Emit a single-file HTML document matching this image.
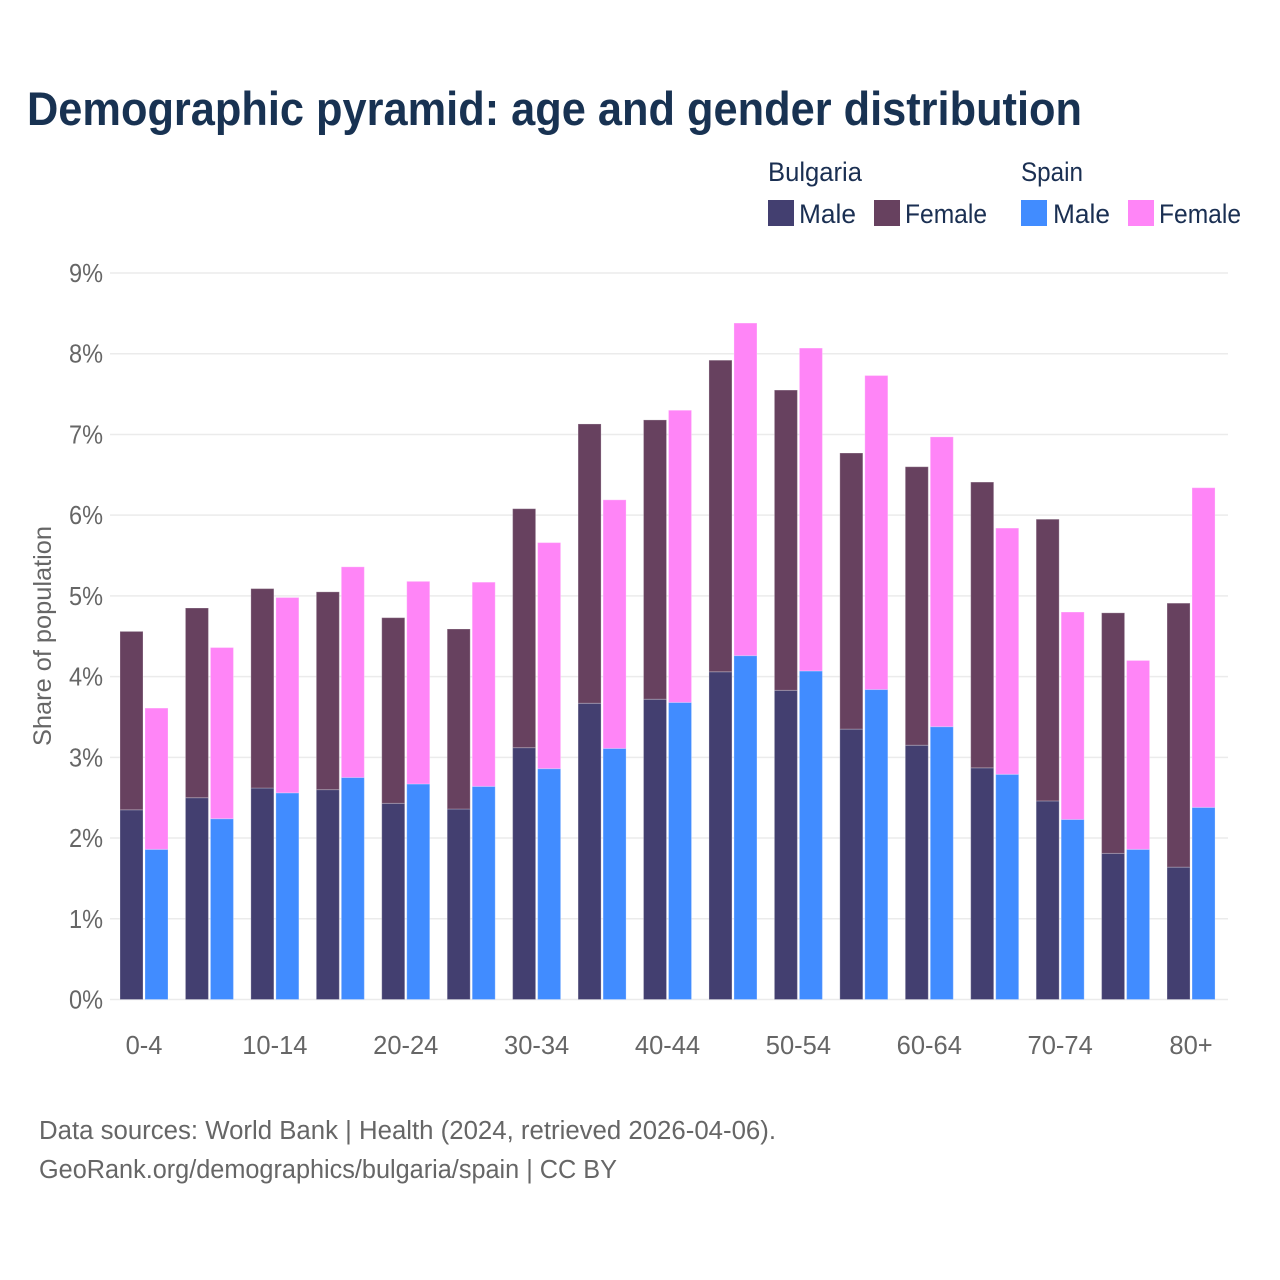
<!DOCTYPE html>
<html lang="en">
<head>
<meta charset="utf-8">
<title>Demographic pyramid: age and gender distribution</title>
<style>
html,body{margin:0;padding:0;background:#fff;width:1280px;height:1280px;overflow:hidden}
svg{display:block}
text{font-family:"Liberation Sans",sans-serif}
.legend{font-size:27px;fill:#1a2f52}
.tick{font-size:25.5px;fill:#666}
.foot{font-size:25.5px;fill:#666}
</style>
</head>
<body>
<svg id="chart" xmlns="http://www.w3.org/2000/svg" width="1280" height="1280" viewBox="0 0 1280 1280">
  <rect x="0" y="0" width="1280" height="1280" fill="#fff"/>
  <text x="27" y="125" font-size="47" font-weight="700" fill="#183252" textLength="1055" lengthAdjust="spacingAndGlyphs">Demographic pyramid: age and gender distribution</text>

  <g>
    <text class="legend" x="768" y="181" textLength="94" lengthAdjust="spacingAndGlyphs">Bulgaria</text>
    <text class="legend" x="1021" y="181" textLength="62" lengthAdjust="spacingAndGlyphs">Spain</text>
    <rect x="768" y="200" width="26" height="26" fill="#433f70"/>
    <text class="legend" x="799" y="223" textLength="57" lengthAdjust="spacingAndGlyphs">Male</text>
    <rect x="874" y="200" width="26" height="26" fill="#67415f"/>
    <text class="legend" x="905" y="223" textLength="82" lengthAdjust="spacingAndGlyphs">Female</text>
    <rect x="1021" y="200" width="26" height="26" fill="#418cff"/>
    <text class="legend" x="1053" y="223" textLength="57" lengthAdjust="spacingAndGlyphs">Male</text>
    <rect x="1128" y="200" width="26" height="26" fill="#ff85f7"/>
    <text class="legend" x="1159" y="223" textLength="82" lengthAdjust="spacingAndGlyphs">Female</text>
  </g>

  <text transform="translate(51,746) rotate(-90)" x="0" y="0" font-size="25" fill="#666" textLength="220" lengthAdjust="spacingAndGlyphs">Share of population</text>

  <g id="grid"></g>
  <g id="ylabels"></g>
  <g id="bars"></g>
  <g id="xlabels"></g>

  <g>
    <text class="foot" x="39" y="1139" textLength="737" lengthAdjust="spacingAndGlyphs">Data sources: World Bank | Health (2024, retrieved 2026-04-06).</text>
    <text class="foot" x="39" y="1178" textLength="578" lengthAdjust="spacingAndGlyphs">GeoRank.org/demographics/bulgaria/spain | CC BY</text>
  </g>
</svg>
<script>
const ageGroups = ["0-4","5-9","10-14","15-19","20-24","25-29","30-34","35-39","40-44","45-49","50-54","55-59","60-64","65-69","70-74","75-79","80+"];
const xTickLabels = ["0-4","","10-14","","20-24","","30-34","","40-44","","50-54","","60-64","","70-74","","80+"];
const yTicks = [0,1,2,3,4,5,6,7,8,9];
const bulgariaMale = [2.35,2.50,2.62,2.60,2.43,2.36,3.12,3.67,3.72,4.06,3.83,3.35,3.15,2.87,2.46,1.81,1.64];
const bulgariaFemale = [2.21,2.35,2.47,2.45,2.30,2.23,2.96,3.46,3.46,3.86,3.72,3.42,3.45,3.54,3.49,2.98,3.27];
const spainMale = [1.86,2.24,2.56,2.75,2.67,2.64,2.86,3.11,3.68,4.26,4.07,3.84,3.38,2.79,2.23,1.86,2.38];
const spainFemale = [1.75,2.12,2.42,2.61,2.51,2.53,2.80,3.08,3.62,4.12,4.00,3.89,3.59,3.05,2.57,2.34,3.96];

const NS = "http://www.w3.org/2000/svg";
const yScale = function (v) { return 999.5 - v * 80.72; };
const xScale = function (i) { return 120 + i * 65.44; };
const BAR_W = 23;
const BAR_GAP = 25;

function addSegment(parent, x, base, value, fill) {
  const r = document.createElementNS(NS, "rect");
  r.setAttribute("x", x);
  r.setAttribute("y", yScale(base + value));
  r.setAttribute("width", BAR_W);
  r.setAttribute("height", yScale(base) - yScale(base + value));
  r.setAttribute("fill", fill);
  r.setAttribute("stroke", "#fff");
  r.setAttribute("stroke-opacity", "0.25");
  r.setAttribute("stroke-width", "1");
  parent.appendChild(r);
  return r;
}

const grid = document.getElementById("grid");
const ylabels = document.getElementById("ylabels");
yTicks.forEach(function (t) {
  const line = document.createElementNS(NS, "line");
  
  
  line.setAttribute("x1", 110);
  line.setAttribute("x2", 1228);
  line.setAttribute("y1", yScale(t));
  line.setAttribute("y2", yScale(t));
  line.setAttribute("stroke", "#ebebeb");
  line.setAttribute("stroke-width", "1.5");
  grid.appendChild(line);

  const label = document.createElementNS(NS, "text");
  
  
  label.setAttribute("class", "tick");
  label.setAttribute("x", 69);
  label.setAttribute("y", yScale(t) + 9);
  label.setAttribute("textLength", "34");
  label.setAttribute("lengthAdjust", "spacingAndGlyphs");
  label.textContent = t + "%";
  ylabels.appendChild(label);
});

const bars = document.getElementById("bars");
ageGroups.forEach(function (age, i) {
  const x1 = xScale(i);
  const x2 = x1 + BAR_GAP;
  const s1 = addSegment(bars, x1, 0, bulgariaMale[i], "#433f70");
  
  
  const s2 = addSegment(bars, x1, bulgariaMale[i], bulgariaFemale[i], "#67415f");
  
  
  const s3 = addSegment(bars, x2, 0, spainMale[i], "#418cff");
  
  
  const s4 = addSegment(bars, x2, spainMale[i], spainFemale[i], "#ff85f7");
  
  
});

const xlabels = document.getElementById("xlabels");
xTickLabels.forEach(function (txt, i) {
  if (!txt) return;
  const t = document.createElementNS(NS, "text");
  
  
  t.setAttribute("class", "tick");
  t.setAttribute("x", xScale(i) + (BAR_W + BAR_GAP) / 2);
  t.setAttribute("y", 1054);
  t.setAttribute("text-anchor", "middle");
  t.textContent = txt;
  xlabels.appendChild(t);
});
</script>
</body>
</html>
